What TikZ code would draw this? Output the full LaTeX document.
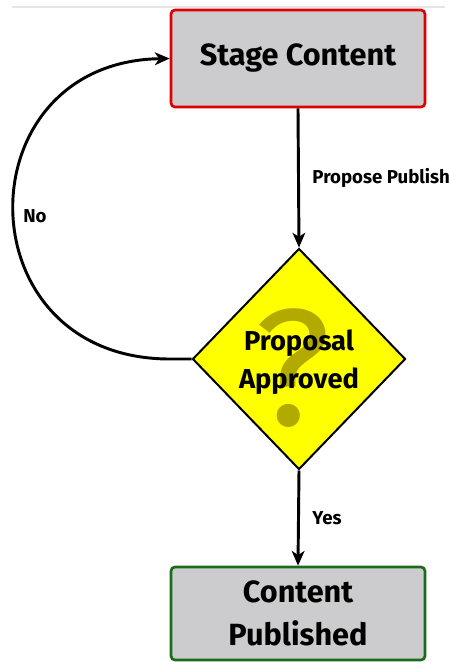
\documentclass[tikz,border=0pt]{standalone}
\usepackage{fontspec}
\setmainfont{Fira Sans}
\usepackage{xcolor}
\usepackage{tikz}
\usetikzlibrary{arrows.meta,positioning,shapes.geometric}
\definecolor{FlowGrey}{HTML}{CCCCCE}
\definecolor{FlowRed}{HTML}{DD0000}
\definecolor{FlowGreen}{HTML}{1B6B1B}
\definecolor{FlowYellow}{HTML}{FFFF00}
\definecolor{FlowOlive}{HTML}{B3AA00}
\definecolor{FlowRule}{HTML}{E6E6E6}

\begin{document}
\begin{tikzpicture}[x=0.75pt,y=-0.75pt,
  stagebox/.style={draw,line width=2pt,rounded corners=3pt,fill=FlowGrey,minimum width=190.5pt,align=center,font=\fontsize{23}{32}\selectfont\bfseries},
  decision/.style={diamond,draw,line width=1.5pt,fill=FlowYellow,aspect=1,inner sep=0pt,minimum width=159.75pt,minimum height=165.75pt},
  flow/.style={line width=2.2pt,-{Stealth[length=11pt,width=9.5pt,inset=3pt]}},
  edgelabel/.style={font=\fontsize{14}{16}\selectfont\bfseries}
]
\useasboundingbox (0,0) rectangle (449,662);
\draw[FlowRule,line width=0.8pt] (12,7) -- (445,7);
\node[stagebox,draw=FlowRed,minimum height=72.75pt] (stage) at (298,58.5) {Stage Content};
\node[decision] (approval) at (299,359) {};
\node[text=FlowOlive,font=\fontsize{125}{125}\selectfont] (qmark) at (293,368) {?};
\node[align=center,font=\fontsize{20.5}{28.5}\selectfont\bfseries] (approvaltext) at (299,362) {Proposal\\Approved};
\node[stagebox,draw=FlowGreen,minimum height=69.75pt] (published) at (298,613.5) {Content\\Published};
\draw[flow] (stage.south) -- node[edgelabel,right=6pt] (proposelabel) {Propose Publish} (approval.north);
\draw[flow] (approval.south) -- node[edgelabel,right=6pt] (yeslabel) {Yes} (published.north);
\coordinate (noturn) at (170,359);
\draw[flow] (approval.west) -- (noturn) .. controls (-38,359) and (-38,62) .. (stage.west);
\node[edgelabel] (nolabel) at (35,216) {No};
\end{tikzpicture}
\end{document}
